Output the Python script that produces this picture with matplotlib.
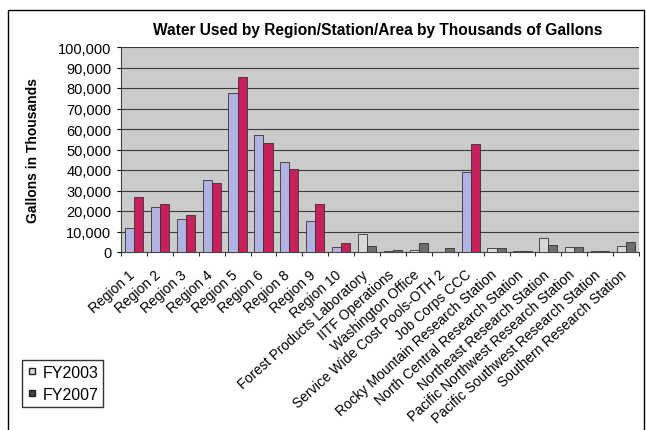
import matplotlib.pyplot as plt
import numpy as np
from matplotlib.patches import Rectangle
from matplotlib.lines import Line2D
from matplotlib.ticker import FuncFormatter, FixedLocator
from matplotlib.transforms import ScaledTranslation

plt.rcParams['font.family'] = ['Liberation Sans', 'DejaVu Sans']

sites = ["Region 1", "Region 2", "Region 3", "Region 4", "Region 5", "Region 6",
         "Region 8", "Region 9", "Region 10", "Forest Products Laboratory",
         "IITF Operations", "Washington Office", "Service Wide Cost Pools-OTH 2",
         "Job Corps CCC", "Rocky Mountain Research Station",
         "North Central Research Station", "Northeast Research Station",
         "Pacific Northwest Research Station", "Pacific Southwest Research Station",
         "Southern Research Station"]
fy2003 = [11500, 22000, 16000, 35000, 77500, 57000, 44000, 15000, 2300, 9000,
          500, 1000, 0, 39000, 1800, 300, 6700, 2600, 500, 3100]
fy2007 = [27000, 23500, 18000, 33500, 85500, 53000, 40500, 23500, 4400, 3100,
          1000, 4400, 1800, 52500, 1800, 300, 3600, 2600, 500, 4700]
# the small sites print in grey; regions and Job Corps in colour
coloured = [True] * 9 + [False] * 4 + [True] + [False] * 6

fig = plt.figure(figsize=(6.46, 4.31), dpi=100)
fig.patches.append(Rectangle((8 / 646, -0.01), 636 / 646, 1 - 11 / 431 + 0.01,
                             transform=fig.transFigure, fill=False,
                             edgecolor='black', linewidth=1.0))

ax = fig.add_axes([121 / 646, 1 - 253 / 431, 518 / 646, 205 / 431])
ax.set_facecolor('#cbcbcb')

x = np.arange(len(sites))
w = 0.35
c03 = ['#b0b2e2' if c else '#d8d8d8' for c in coloured]
c07 = ['#c8205c' if c else '#6e6e6e' for c in coloured]
ax.bar(x - w / 2, fy2003, w, color=c03, edgecolor='#333333', linewidth=0.6,
       label='FY2003', zorder=3)
ax.bar(x + w / 2, fy2007, w, color=c07, edgecolor='#333333', linewidth=0.6,
       label='FY2007', zorder=3)

ax.set_xlim(-0.5, len(sites) - 0.5)
ax.set_ylim(0, 100000)
ax.set_yticks(np.arange(0, 100001, 10000))
ax.yaxis.set_major_formatter(FuncFormatter(lambda v, p: f"{int(v):,}"))
ax.grid(axis='y', color='#3a3a3a', linewidth=0.8, zorder=1)
ax.tick_params(axis='y', labelsize=10.5, length=3, pad=4)

ax.set_xticks(x)
ax.set_xticklabels(sites, rotation=42, ha='right', rotation_mode='anchor',
                   fontsize=10)
ax.tick_params(axis='x', which='major', length=0, pad=8)
# nudge the slanted labels left so their ends sit under the tick
shift = ScaledTranslation(-0.06, -0.04, fig.dpi_scale_trans)
for lbl in ax.get_xticklabels():
    lbl.set_transform(lbl.get_transform() + shift)
ax.xaxis.set_minor_locator(FixedLocator(np.arange(-0.5, len(sites), 1)))
ax.tick_params(axis='x', which='minor', length=3)

for side in ['top', 'right']:
    ax.spines[side].set_visible(False)
ax.spines['left'].set_color('#444444')
ax.spines['bottom'].set_color('#444444')

ax.set_ylabel('Gallons in Thousands', fontsize=10, fontweight='bold', labelpad=13)
fig.text(378 / 646, 1 - 31 / 431, 'Water Used by Region/Station/Area by Thousands of Gallons',
         ha='center', va='center', fontsize=11.2, fontweight='bold')

handles = [Line2D([], [], marker='s', linestyle='none', markersize=5,
                  markerfacecolor='#d8d8d8', markeredgecolor='#222222'),
           Line2D([], [], marker='s', linestyle='none', markersize=5,
                  markerfacecolor='#444444', markeredgecolor='#222222')]
leg = fig.legend(handles, ['FY2003', 'FY2007'], loc='upper left',
                 bbox_to_anchor=(22 / 646, 1 - 361 / 431), fontsize=11.5,
                 frameon=True, fancybox=False, handlelength=0.6,
                 handletextpad=0.4, borderpad=0.3, labelspacing=0.45,
                 borderaxespad=0)
leg.get_frame().set_edgecolor('black')
leg.get_frame().set_linewidth(1.0)

fig.savefig('out.png', dpi=100)
